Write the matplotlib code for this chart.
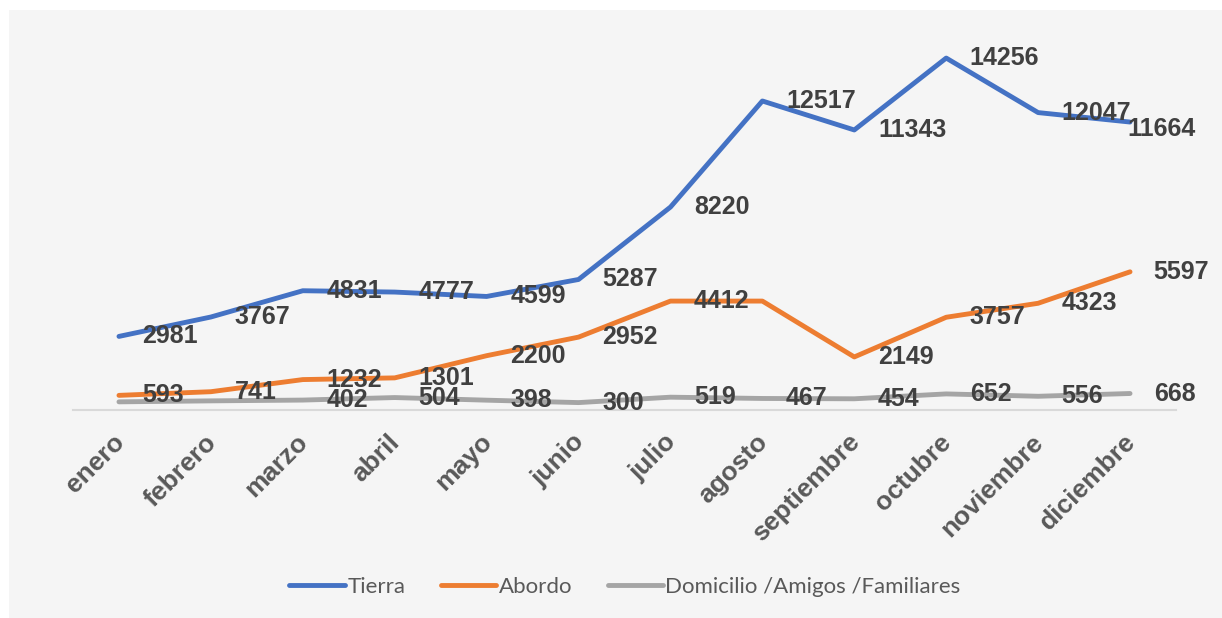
import matplotlib.pyplot as plt
from matplotlib.patches import Rectangle
from matplotlib.transforms import ScaledTranslation

meses = ['enero', 'febrero', 'marzo', 'abril', 'mayo', 'junio', 'julio',
         'agosto', 'septiembre', 'octubre', 'noviembre', 'diciembre']

tierra = [2981, 3767, 4831, 4777, 4599, 5287, 8220, 12517, 11343, 14256, 12047, 11664]
abordo = [593, 741, 1232, 1301, 2200, 2952, 4412, 4412, 2149, 3757, 4323, 5597]
domicilio = [330, 370, 402, 504, 398, 300, 519, 467, 454, 652, 556, 668]

# labels shown on the chart ('' = label not shown)
tierra_lbl = [str(v) for v in tierra]
abordo_lbl = ['593', '741', '1232', '1301', '2200', '2952', '4412', '', '2149', '3757', '4323', '5597']
domicilio_lbl = ['', '', '402', '504', '398', '300', '519', '467', '454', '652', '556', '668']

fig = plt.figure(figsize=(12.22, 6.18), dpi=100)
fig.patches.append(Rectangle((9 / 1222, 0), 1, (618 - 10) / 618, transform=fig.transFigure,
                             facecolor='#f5f5f5', edgecolor='none', zorder=-10))
ax = fig.add_axes([73 / 1222, (618 - 410) / 618, (1176 - 73) / 1222, (410 - 15) / 618])
ax.set_facecolor('none')

x = range(len(meses))
series = [
    ('Tierra', tierra, tierra_lbl, '#4472C4'),
    ('Abordo', abordo, abordo_lbl, '#ED7D31'),
    ('Domicilio /Amigos /Familiares', domicilio, domicilio_lbl, '#A5A5A5'),
]
for name, vals, lbls, col in series:
    ax.plot(x, vals, color=col, lw=3.5, label=name, solid_capstyle='round')
    for xi, v, t in zip(x, vals, lbls):
        if not t:
            continue
        dx, dy = 17, 0
        # last label of the top line is pulled back inside the plot, like Excel does
        if name == 'Tierra' and xi == len(meses) - 1:
            dx, dy = -2, -5
        ax.annotate(t, (xi, v), xytext=(dx, dy), textcoords='offset points',
                    ha='left', va='center', fontsize=18, fontweight='bold',
                    color='#404040', family='Liberation Sans')

ax.set_xlim(-0.5, len(meses) - 0.5)
ax.set_ylim(0, 16000)
ax.set_yticks([])
for s in ['top', 'right', 'left']:
    ax.spines[s].set_visible(False)
ax.spines['bottom'].set_color('#d9d9d9')
ax.spines['bottom'].set_linewidth(1.5)
ax.set_xticks(list(x))
ax.set_xticklabels(meses, rotation=45, ha='right', rotation_mode='anchor',
                   fontsize=19, fontweight='bold', color='#595959', family='Liberation Sans')
ax.tick_params(axis='x', length=0, pad=10)
shift = ScaledTranslation(-7 / 100, -6 / 100, fig.dpi_scale_trans)
for lab in ax.get_xticklabels():
    lab.set_transform(lab.get_transform() + shift)

fig.legend(loc='center', bbox_to_anchor=(625 / 1222, 1 - 587 / 618), ncol=3,
           frameon=False, prop={'family': 'Lato', 'size': 16}, labelcolor='#595959',
           handlelength=2.5, handletextpad=0.1, columnspacing=1.6)

fig.savefig('out.png', dpi=100)
